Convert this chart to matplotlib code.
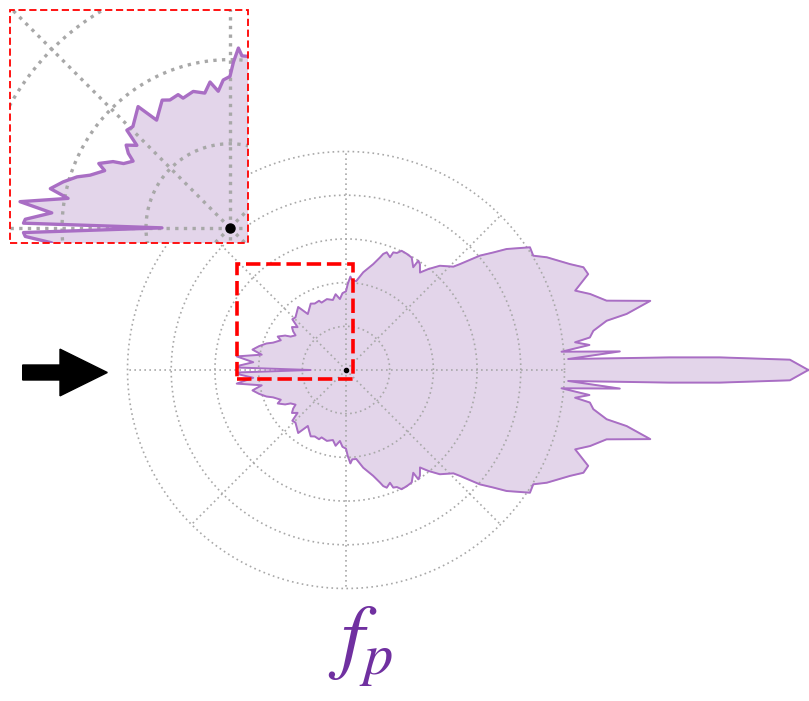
import numpy as np
import matplotlib
matplotlib.use("Agg")
import matplotlib.pyplot as plt
from matplotlib.patches import Rectangle, FancyArrow

# ---- data: radiation-pattern outline (upper half, degrees / radial units) ----
theta_upper = [0, 1.33, 1.93, 2.23, 2.83, 3.88, 4.85, 5.87, 6.9, 7.6, 9.0, 10.7,
               11.3, 12.8, 14.9, 17.3, 19.1, 21.6, 23.4, 25.3, 29.3, 31.4, 33.7,
               37.0, 38.6, 40.5, 42.9, 43.9, 48.0, 50.8, 52.8, 55.0, 56.5, 56.8,
               59.7, 62.4, 65.0, 66.5, 68.1, 68.7, 70.9, 72.2, 73.2, 75.6, 80.0,
               83.4, 86.0, 87.3, 88.8, 90.0, 92.6, 94.9, 97.8, 100.6, 105.1, 109.9,
               111.3, 115.2, 118.0, 124.3, 127.2, 133.8, 136.6, 138.5, 141.5, 143.8,
               145.5, 148.9, 150.5, 153.9, 155.5, 159.4, 161.6, 164.6, 167.7, 169.7,
               172.9, 175.2, 177.6, 178.7]
r_upper = [10.58, 10.16, 8.56, 7.41, 5.09, 6.28, 4.95, 5.60, 5.28, 5.63, 5.73, 6.07,
           6.55, 7.14, 6.17, 5.85, 5.55, 5.96, 5.92, 5.67, 5.27, 5.02, 5.06,
           4.60, 4.31, 4.03, 3.56, 3.41, 3.21, 2.98, 2.80, 2.95, 3.00, 2.81,
           2.98, 3.00, 3.01, 2.92, 2.90, 2.77, 2.85, 2.79, 2.69, 2.50, 2.27,
           2.05, 2.05, 2.14, 1.97, 1.80, 1.76, 1.63, 1.75, 1.63, 1.68, 1.64,
           1.70, 1.68, 1.72, 1.55, 1.81, 1.67, 1.69, 1.48, 1.58, 1.50,
           1.40, 1.48, 1.60, 1.74, 1.64, 1.78, 1.92, 2.06, 2.19, 1.96,
           2.52, 2.13, 2.44, 2.46]
theta_back = 180.0
r_back = 0.81

ring_radii = [1, 2, 3, 4, 5]
spoke_angles = [0, 45, 90, 135, 180, 225, 270, 315]

zoom_box_x = (-2.50, 0.167)
zoom_box_y = (-0.213, 2.419)
inset_xlim = (-2.62, 0.215)
inset_ylim = (-0.18, 2.59)

# ---- build closed outline (mirror about the horizontal axis) ----
tu = np.radians(np.array(theta_upper))
ru = np.array(r_upper)
t_all = np.concatenate([tu, [np.radians(theta_back)], -tu[::-1][:-1]])
r_all = np.concatenate([ru, [r_back], ru[::-1][:-1]])
xs = r_all * np.cos(t_all)
ys = r_all * np.sin(t_all)

FILL = "#e3d5ea"
EDGE = "#a96ec4"
GRID = "#a8a8a8"
PURPLE = "#7030a0"

W, H = 809, 701
fig = plt.figure(figsize=(W / 100, H / 100), dpi=100)
ax = fig.add_axes([0, 0, 1, 1])
px = 43.7
cx, cy = 346, 370
ax.set_xlim(-cx / px, (W - cx) / px)
ax.set_ylim(-(H - cy) / px, cy / px)
ax.axis("off")


def draw_pattern(a, lw_grid, dash, lw_edge, dot_size, clip=False):
    a.fill(xs, ys, color=FILL, zorder=1, clip_on=clip)
    a.plot(np.append(xs, xs[0]), np.append(ys, ys[0]), color=EDGE,
           lw=lw_edge, zorder=3, clip_on=clip, solid_joinstyle="round")
    tt = np.linspace(0, 2 * np.pi, 400)
    for rr in ring_radii:
        a.plot(rr * np.cos(tt), rr * np.sin(tt), color=GRID, lw=lw_grid,
               linestyle=dash, zorder=2)
    rmax = max(ring_radii)
    for ang in spoke_angles:
        t = np.radians(ang)
        a.plot([0, rmax * np.cos(t)], [0, rmax * np.sin(t)], color=GRID,
               lw=lw_grid, linestyle=dash, zorder=2)
    a.plot([0], [0], "o", color="black", ms=dot_size, zorder=4)


draw_pattern(ax, 1.2, (0, (1, 2)), 1.4, 3)

# zoom rectangle in main plot
ax.add_patch(Rectangle((zoom_box_x[0], zoom_box_y[0]),
                       zoom_box_x[1] - zoom_box_x[0], zoom_box_y[1] - zoom_box_y[0],
                       fill=False, edgecolor="red", lw=2.6,
                       linestyle=(0, (4, 1.6)), zorder=6))

# arrow on the left
ax.add_patch(FancyArrow((22.7 - cx) / px, (cy - 372.5) / px, (107.3 - 22.7) / px, 0,
                        width=15 / px, head_width=46.7 / px, head_length=47.3 / px,
                        length_includes_head=True, color="black", zorder=6))

# inset (magnified view)
ix0, iy0, iw, ih = 10, 10, 238, 233
axi = fig.add_axes([ix0 / W, 1 - (iy0 + ih) / H, iw / W, ih / H])
axi.set_xlim(*inset_xlim)
axi.set_ylim(*inset_ylim)
axi.set_xticks([])
axi.set_yticks([])
for s in axi.spines.values():
    s.set_visible(False)
draw_pattern(axi, 2.4, (0, (1, 1.6)), 2.4, 6.5, clip=True)
axi.add_patch(Rectangle((0, 0), 1, 1, transform=axi.transAxes, fill=False,
                        edgecolor="red", lw=1.3, linestyle=(0, (4, 2)),
                        zorder=10, clip_on=False))

plt.rcParams["mathtext.fontset"] = "stix"
fig.text(360 / W, 1 - 664 / H, r"$f_p$", color=PURPLE, fontsize=60,
         ha="center", va="baseline")

fig.savefig("out.png", dpi=100)
